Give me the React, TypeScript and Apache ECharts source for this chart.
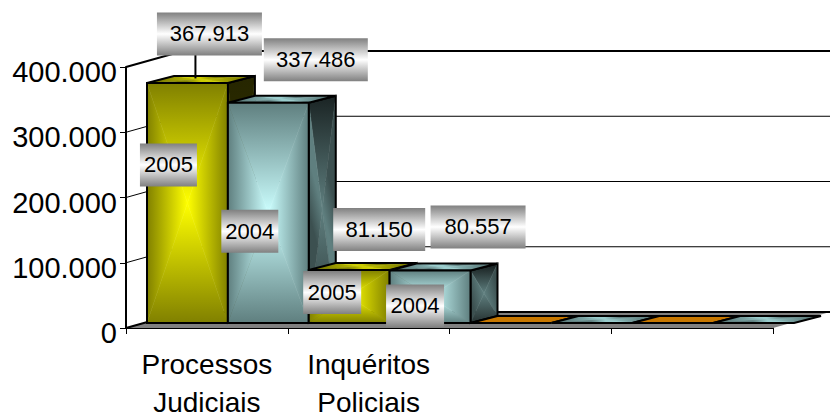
import React, { useEffect, useRef } from "react";
import * as echarts from "echarts";

const categories = ["Processos\nJudiciais", "Inquéritos\nPoliciais", "", ""];
const seriesNames = ["2005", "2004"];
const values2005 = [367913, 81150, 0, 0];
const values2004 = [337486, 80557, 0, 0];
const yTicks = [0, 100000, 200000, 300000, 400000];

// Label box placement relative to each bar's top-centre (dx, dy, width)
const valueBoxes = [
  [22, -49, 105],
  [47.5, -43, 104],
  [30, -40.5, 92],
  [48, -43.5, 95],
];
const yearBoxes = [
  [-19, 82, 57],
  [-18.5, 128.5, 57],
  [-17, 22.5, 58],
  [-15, 35.5, 58],
];

const FONT = "Liberation Sans";
const WALL_DX = 57;
const WALL_DY = -16;
const BAR_DX = 21;
const BAR_DY = -5;
const DEPTH_DX = 27;
const DEPTH_DY = -7;

const fmt = (v: number) => String(v).replace(/\B(?=(\d{3})+$)/g, ".");

const rows: number[][] = [];
categories.forEach((_, c) => {
  rows.push([c, values2005[c], 0]);
  rows.push([c, values2004[c], 1]);
});

type P = [number, number];
function pyramid(pts: P[], edge: string | string[], centre: string) {
  const cx = pts.reduce((s, p) => s + p[0], 0) / pts.length;
  const cy = pts.reduce((s, p) => s + p[1], 0) / pts.length;
  return pts.map((p, i) => {
    const q = pts[(i + 1) % pts.length];
    const mx = (p[0] + q[0]) / 2;
    const my = (p[1] + q[1]) / 2;
    const edgeColor = Array.isArray(edge) ? edge[i] : edge;
    const grad = new echarts.graphic.LinearGradient(
      mx, my, cx, cy,
      [{ offset: 0, color: edgeColor }, { offset: 1, color: centre }],
      true
    );
    return {
      type: "polygon",
      shape: { points: [p, q, [cx, cy]] },
      style: { fill: grad, stroke: grad, lineWidth: 0.5 },
    };
  });
}
const outline = (pts: P[]) => ({
  type: "polygon",
  shape: { points: pts },
  style: { fill: "none", stroke: "#000", lineWidth: 2 },
});

const palettes = [
  {
    front: ["#808000", "#ffff00"],
    side: [["#262600", "#2c2c00", "#262600", "#2c2c00"], "#333300"],
    top: ["#808000", "#cccc00"],
  },
  {
    front: ["#5f7f7f", "#ccffff"],
    side: [["#1c2626", "#3c5050", "#2c3a3a", "#3c5050"], "#5f7f7f"],
    top: ["#5f7f7f", "#99cccc"],
  },
];

function renderWall(params: any, api: any) {
  const g = params.coordSys;
  const v = api.value(1);
  const y = api.coord([0, v])[1];
  const left = g.x;
  const children: any[] = [];
  if (v === 0) {
    children.push({
      type: "polygon",
      shape: {
        points: [
          [left, y],
          [left + g.width, y],
          [left + g.width + WALL_DX, y + WALL_DY],
          [left + WALL_DX, y + WALL_DY],
        ],
      },
      style: { fill: "#808080", stroke: "none" },
    });
  }
  const heavy = v === 0 || v === 400000;
  children.push({
    type: "polyline",
    shape: {
      points: [
        [left, y],
        [left + WALL_DX, y + WALL_DY],
        [left + g.width + WALL_DX, y + WALL_DY],
      ],
    },
    style: { fill: "none", stroke: "#000", lineWidth: heavy ? 2 : 1 },
  });
  return { type: "group", children };
}

function renderBar(_: any, api: any) {
  const cat = api.value(0);
  const val = api.value(1);
  const s = api.value(2);
  const w = api.size([1, 0])[0] / 2;
  const centre = api.coord([cat, val]);
  const base = api.coord([cat, 0]);
  const x0 = centre[0] - w + BAR_DX + s * w;
  const x1 = x0 + w;
  const yT = centre[1] + BAR_DY;
  const yB = base[1] + BAR_DY;
  const pal: any = palettes[s];
  const front: P[] = [[x0, yT], [x1, yT], [x1, yB], [x0, yB]];
  const side: P[] = [[x1, yT], [x1 + DEPTH_DX, yT + DEPTH_DY], [x1 + DEPTH_DX, yB + DEPTH_DY], [x1, yB]];
  const top: P[] = [[x0, yT], [x0 + DEPTH_DX, yT + DEPTH_DY], [x1 + DEPTH_DX, yT + DEPTH_DY], [x1, yT]];
  if (val === 0) {
    return {
      type: "group",
      children: [
        ...(s === 0
          ? [{ type: "polygon", shape: { points: top }, style: { fill: "#c87800", stroke: "#000", lineWidth: 2 } }]
          : [...pyramid(top, pal.top[0], pal.top[1]), outline(top)]),
      ],
    };
  }
  return {
    type: "group",
    children: [
      ...pyramid(side, pal.side[0], pal.side[1]),
      outline(side),
      ...pyramid(top, pal.top[0], pal.top[1]),
      outline(top),
      ...pyramid(front, pal.front[0], pal.front[1]),
      outline(front),
    ],
  };
}

function labelBox(cx: number, cy: number, w: number, text: string) {
  const h = 43;
  return [
    {
      type: "rect",
      shape: { x: cx - w / 2, y: cy - h / 2, width: w, height: h },
      style: {
        fill: new echarts.graphic.LinearGradient(0, 0, 0, 1, [
          { offset: 0, color: "#808080" },
          { offset: 0.5, color: "#ffffff" },
          { offset: 1, color: "#808080" },
        ]),
      },
    },
    {
      type: "text",
      x: cx,
      y: cy,
      style: {
        text,
        fill: "#000",
        font: `22px "${FONT}"`,
        align: "center",
        verticalAlign: "middle",
      },
    },
  ];
}

function renderLabel(_: any, api: any) {
  const cat = api.value(0);
  const val = api.value(1);
  const s = api.value(2);
  if (val === 0) return { type: "group", children: [] };
  const idx = cat * 2 + s;
  const w = api.size([1, 0])[0] / 2;
  const c = api.coord([cat, val]);
  const bx = c[0] - w / 2 + BAR_DX + s * w;
  const by = c[1] + BAR_DY;
  const [vdx, vdy, vw] = valueBoxes[idx];
  const [ydx, ydy, yw] = yearBoxes[idx];
  const children: any[] = [];
  if (idx === 0) {
    children.push({
      type: "line",
      shape: { x1: bx + 8, y1: by + vdy, x2: bx + 8, y2: by + DEPTH_DY / 2 - 1 },
      style: { stroke: "#000", lineWidth: 2 },
    });
  }
  children.push(...labelBox(bx + vdx, by + vdy, vw, fmt(val)));
  children.push(...labelBox(bx + ydx, by + ydy, yw, seriesNames[s]));
  return { type: "group", children };
}

const richLine = (lineHeight: number) => ({
  fontSize: 28,
  fontFamily: FONT,
  color: "#000",
  lineHeight,
});

export default function App() {
  const ref = useRef<HTMLDivElement>(null);
  useEffect(() => {
    document.body.style.margin = "0";
    const chart = echarts.init(ref.current!, undefined, { renderer: "svg" });
    chart.setOption({
      animation: false,
      backgroundColor: "#ffffff",
      textStyle: { fontFamily: FONT },
      grid: { left: 126, right: 58, top: 67, bottom: 85, containLabel: false, outerBoundsMode: "none" },
      xAxis: {
        type: "category",
        data: categories,
        boundaryGap: true,
        axisLine: { lineStyle: { color: "#000", width: 2 } },
        axisTick: { show: true, alignWithLabel: false, length: 6, lineStyle: { color: "#000", width: 1 } },
        axisLabel: {
          color: "#000",
          fontSize: 28,
          fontFamily: FONT,
          margin: 9,
          interval: 0,
          formatter: (v: string) => {
            if (!v) return "";
            const [a, b] = v.split("\n");
            return `{a|${a}}\n{b|${b}}`;
          },
          rich: { a: richLine(54), b: richLine(22) },
        },
        splitLine: { show: false },
      },
      yAxis: {
        type: "value",
        min: 0,
        max: 400000,
        interval: 100000,
        axisLine: { show: true, lineStyle: { color: "#000", width: 2 } },
        axisTick: { show: true, length: 6, lineStyle: { color: "#000", width: 1 } },
        axisLabel: {
          color: "#000",
          fontSize: 29,
          fontFamily: FONT,
          margin: 9,
          formatter: (v: number) => `{t|${fmt(v)}}`,
          rich: { t: { fontSize: 29, fontFamily: FONT, color: "#000", padding: [10, 0, 0, 0] } },
        },
        splitLine: { show: false },
      },
      series: [
        {
          type: "custom",
          z: 1,
          silent: true,
          renderItem: renderWall,
          encode: { x: 0, y: 1 },
          data: yTicks.map((v) => [0, v]),
        },
        {
          type: "custom",
          z: 3,
          silent: true,
          renderItem: renderBar,
          encode: { x: 0, y: 1 },
          data: rows,
        },
        {
          type: "custom",
          z: 4,
          silent: true,
          renderItem: renderLabel,
          encode: { x: 0, y: 1 },
          data: rows,
        },
      ],
    });
    return () => chart.dispose();
  }, []);
  return <div ref={ref} style={{ width: 831, height: 413 }} />;
}
